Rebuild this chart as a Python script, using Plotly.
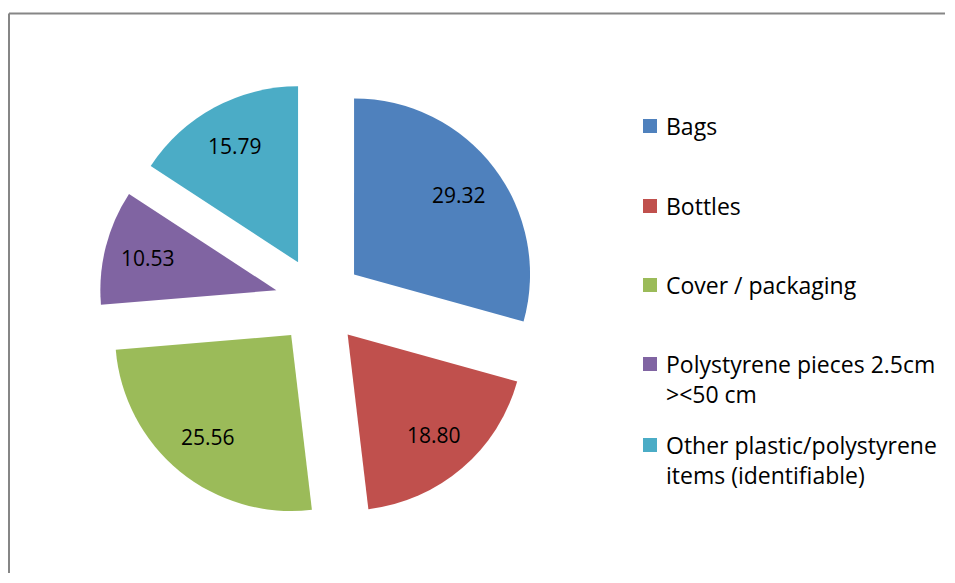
import numpy as np
import plotly.graph_objects as go

labels = ["Bags", "Bottles", "Cover / packaging",
          "Polystyrene pieces 2.5cm<br>><50 cm",
          "Other plastic/polystyrene<br>items (identifiable)"]
values = [29.32, 18.80, 25.56, 10.53, 15.79]
value_text = ["29.32", "18.80", "25.56", "10.53", "15.79"]
colors = ["#4F81BD", "#C0504D", "#9BBB59", "#8064A2", "#4BACC6"]

# page has an 8px body margin; figure sized to fit without scrollbars
OFF = 8
FW, FH = 937, 565
FONT = "Open Sans"


def px(x):
    return (x - OFF) / FW


def py(y):
    return 1 - (y - OFF) / FH


PULL = 0.25
cx, cy, half = 319, 301, 220  # pie domain centre / half-size in page px
R = half / (1 + PULL)

fig = go.Figure()
fig.add_trace(go.Pie(
    labels=labels, values=values, textinfo="none",
    marker=dict(colors=colors, line=dict(width=0)),
    sort=False, direction="clockwise", rotation=0,
    pull=[PULL] * len(values),
    domain=dict(x=[px(cx - half), px(cx + half)], y=[py(cy + half), py(cy - half)]),
    showlegend=False, hoverinfo="label+value",
))

annotations = []
# data labels placed along each slice's mid-angle
vals = np.array(values)
cum = np.cumsum(vals) - vals / 2
mid = cum / vals.sum() * 2 * np.pi
for t, a in zip(value_text, mid):
    lx = cx + 1.0 * R * np.sin(a)
    ly = cy - 1.0 * R * np.cos(a)
    annotations.append(dict(xref="paper", yref="paper", x=px(lx), y=py(ly),
                            xanchor="center", yanchor="middle", text=t,
                            showarrow=False,
                            font=dict(family=FONT, size=21, color="black")))

# legend drawn manually
leg_x = 650
leg_y = [126, 206, 285, 364, 445]
shapes = [
    dict(type="line", xref="paper", yref="paper", x0=px(9), x1=1.0,
         y0=py(13.5), y1=py(13.5), line=dict(color="#868686", width=2)),
    dict(type="line", xref="paper", yref="paper", x0=px(9), x1=px(9),
         y0=0.0, y1=py(13.5), line=dict(color="#868686", width=2)),
]
for lab, col, yc in zip(labels, colors, leg_y):
    shapes.append(dict(type="rect", xref="paper", yref="paper",
                       x0=px(leg_x - 7), x1=px(leg_x + 7),
                       y0=py(yc + 7), y1=py(yc - 7),
                       fillcolor=col, line=dict(width=0)))
    annotations.append(dict(xref="paper", yref="paper", x=px(664),
                            y=py(yc - 18), xanchor="left", yanchor="top",
                            text=lab, showarrow=False, align="left",
                            font=dict(family=FONT, size=23, color="black")))

fig.update_layout(width=FW, height=FH, margin=dict(l=0, r=0, t=0, b=0),
                  paper_bgcolor="white", plot_bgcolor="white",
                  shapes=shapes, annotations=annotations)
fig.write_html("out.html")
